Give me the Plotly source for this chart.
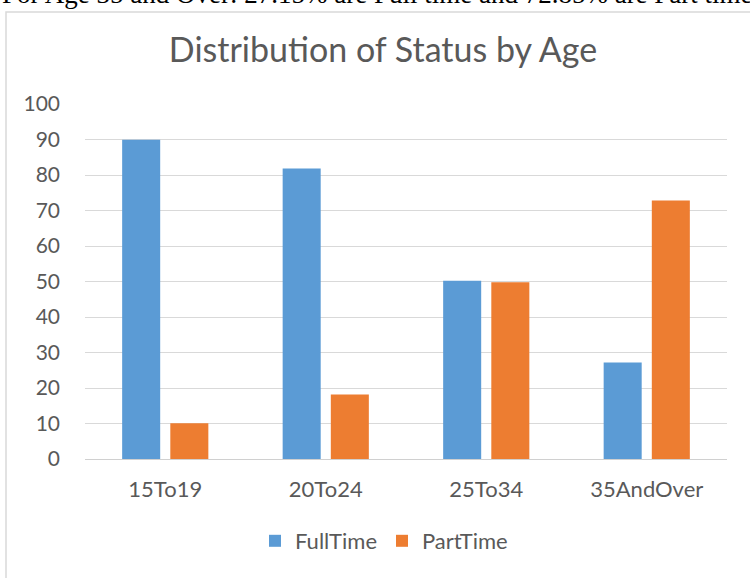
import plotly.graph_objects as go

categories = ["15To19", "20To24", "25To34", "35AndOver"]
full_time = [89.9, 81.8, 50.2, 27.15]
part_time = [10.1, 18.2, 49.8, 72.85]
series_names = ["FullTime", "PartTime"]
y_ticks = [0, 10, 20, 30, 40, 50, 60, 70, 80, 90, 100]
title_text = "Distribution of Status by Age"
top_text = "For Age 35 and Over: 27.15% are Full time and 72.85% are Part time"

FONT = "Lato, 'Open Sans', sans-serif"
TXT = "#595959"

fig = go.Figure()
fig.add_trace(go.Bar(x=categories, y=full_time, name=series_names[0],
                     marker=dict(color="#5B9BD5", line=dict(width=0))))
fig.add_trace(go.Bar(x=categories, y=part_time, name=series_names[1],
                     marker=dict(color="#ED7D31", line=dict(width=0))))

fig.update_layout(
    width=750, height=578,
    margin=dict(l=85, r=23, t=104, b=119, autoexpand=False),
    paper_bgcolor="white", plot_bgcolor="white",
    barmode="group", bargap=0.4, bargroupgap=0.21,
    font=dict(family=FONT, color=TXT, size=22),
    title=dict(text=title_text, x=(383 - 85) / 642, xref="paper", xanchor="center",
               y=1 - 50 / 578, yanchor="middle",
               font=dict(family=FONT, size=34, color=TXT)),
    legend=dict(orientation="h", x=(384 - 85) / 642, xanchor="center", y=-82 / 355, yanchor="middle",
                font=dict(family=FONT, size=22, color=TXT), itemwidth=30,
                traceorder="normal"),
    showlegend=True,
)
fig.update_yaxes(range=[0, 100], tickvals=y_ticks, showgrid=True, gridcolor="#D9D9D9",
                 gridwidth=1, zeroline=False, showline=False, ticks="",
                 ticklabelstandoff=24, tickfont=dict(family=FONT, size=21, color=TXT),
                 fixedrange=True)
fig.update_xaxes(showline=True, linecolor="#D0D0D0", linewidth=1, ticks="",
                 ticklabelstandoff=11, tickfont=dict(family=FONT, size=22, color=TXT),
                 fixedrange=True)

# chart frame
fig.add_shape(type="rect", xref="paper", yref="paper",
              x0=(6 - 85) / 642, x1=2.0, y0=-1.0, y1=(459 - 12) / 355,
              line=dict(color="#D9D9D9", width=1.5), fillcolor="rgba(0,0,0,0)", layer="below")

# cut-off document text above the chart
fig.add_annotation(text=top_text, xref="paper", yref="paper",
                   x=(0 - 85) / 642, xanchor="left", y=(459 - 11) / 355, yanchor="bottom",
                   showarrow=False, font=dict(family="'Liberation Serif', serif", size=27, color="black"))

fig.write_html("out.html", config={"displayModeBar": False},
               post_script="document.body.style.margin='0';document.body.style.overflow='hidden';")
